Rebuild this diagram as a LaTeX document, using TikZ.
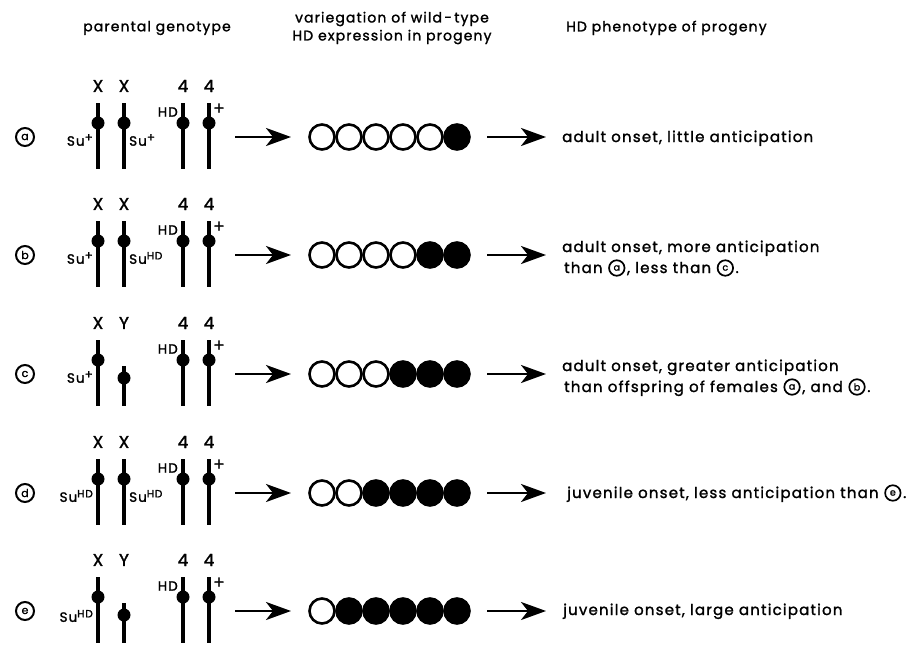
\documentclass[tikz,border=0pt]{standalone}
\usepackage{fontspec}
\setmainfont[LetterSpace=8,FakeBold=1.5]{Poppins}
\usetikzlibrary{arrows.meta,calc}
% superscript plus / HD
\newcommand\supplus{\raisebox{0.55ex}{\fontsize{12}{12}\selectfont +}}
\newcommand\supHD{\raisebox{0.6ex}{\fontsize{10.5}{11}\selectfont HD}}
% chromosome with dot (full length)
\newcommand\chromfull[3]{%
  \draw[chrline] (#2,#3-34) -- (#2,#3+32);
  \node[cdot] (#1) at (#2,#3-14) {};}
% short Y chromosome
\newcommand\chromshort[3]{%
  \draw[chrline] (#2,#3-8) -- (#2,#3+32);
  \node[cdot] (#1) at (#2,#3+4) {};}
% circle row: row name, centre y, number of open circles
\newcommand\circrow[3]{%
  \foreach \k in {0,...,5}{%
    \pgfmathtruncatemacro\isopen{\k<#3 ? 1 : 0}%
    \ifnum\isopen=1
      \node[opencirc] (#1c\k) at (322+27*\k,#2) {};
    \else
      \node[fullcirc] (#1c\k) at (322+27*\k,#2) {};
    \fi}}
% ring after a text node: previous node, new name, letter
\newcommand\ringafter[3]{%
  \node[ring] (#2) at ($(#1.base east)+(14,-5)$) {#3};}
% text after a ring: ring node, reference base node, new name, text
\newcommand\textafter[4]{%
  \node[txt, anchor=base west] (#3) at ($(#1.east |- #2.base)+(1.5,0)$) {#4};}
\begin{document}
\begin{tikzpicture}[x=1pt,y=-1pt,
  chrline/.style={line width=3.2pt},
  cdot/.style={circle, fill=black, inner sep=0pt, minimum size=13pt},
  lab/.style={font=\fontsize{17}{19}\selectfont, inner sep=0pt},
  gene/.style={font=\fontsize{13.5}{15}\selectfont, inner sep=0pt},
  plus/.style={font=\fontsize{17}{17}\selectfont, inner sep=0pt},
  head/.style={font=\fontsize{14}{18}\selectfont, inner sep=0pt, align=center},
  bigarrow/.style={line width=2.6pt, -{Stealth[length=25pt,width=18pt,inset=7pt]}},
  opencirc/.style={circle, draw=black, line width=2.6pt, minimum size=25pt, inner sep=0pt, fill=white},
  fullcirc/.style={opencirc, fill=black},
  rowlab/.style={circle, draw=black, line width=2pt, minimum size=18pt, inner sep=0pt, font=\fontsize{11}{11}\selectfont},
  ring/.style={circle, draw=black, line width=1.7pt, minimum size=15.5pt, inner sep=0pt, font=\fontsize{9.5}{9.5}\selectfont},
  txt/.style={font=\fontsize{15}{18}\selectfont, inner sep=0pt}]
\useasboundingbox (0,0) rectangle (911,645);

% headers
\node[head] (h1) at (157,28) {parental genotype};
\node[head] (h2) at (392,28) {variegation of wild\,-\,type\\HD expression in progeny};
\node[head, anchor=west] (h3) at (566,28) {HD phenotype of progeny};

% ===== row a =====
\def\ry{137}
\node[rowlab] (la) at (25,\ry) {a};
\node[lab] (xa1) at (98,\ry-51) {X};
\node[lab] (xa2) at (124,\ry-51) {X};
\node[lab] (fa1) at (183,\ry-51) {4};
\node[lab] (fa2) at (209,\ry-51) {4};
\chromfull{da1}{98}{\ry}
\chromfull{da2}{124}{\ry}
\chromfull{da3}{183}{\ry}
\chromfull{da4}{209}{\ry}
\node[gene, anchor=east] (sa1) at (93,\ry+3) {Su\supplus};
\node[gene, anchor=west] (sa2) at (129,\ry+3) {Su\supplus};
\node[gene, anchor=east] (ha) at (178,\ry-25) {HD};
\node[plus, anchor=west] (pa) at (213,\ry-28) {+};
\coordinate (a1s) at (235,\ry); \coordinate (a1e) at (291,\ry);
\draw[bigarrow] (a1s) -- (a1e);
\circrow{ra}{\ry}{5}
\coordinate (a2s) at (487,\ry); \coordinate (a2e) at (546,\ry);
\draw[bigarrow] (a2s) -- (a2e);
\node[txt, anchor=base west] (ta) at (562,\ry+5) {adult onset, little anticipation};

% ===== row b =====
\def\ry{255}
\node[rowlab] (lb) at (25,\ry) {b};
\node[lab] (xb1) at (98,\ry-51) {X};
\node[lab] (xb2) at (124,\ry-51) {X};
\node[lab] (fb1) at (183,\ry-51) {4};
\node[lab] (fb2) at (209,\ry-51) {4};
\chromfull{db1}{98}{\ry}
\chromfull{db2}{124}{\ry}
\chromfull{db3}{183}{\ry}
\chromfull{db4}{209}{\ry}
\node[gene, anchor=east] (sb1) at (93,\ry+3) {Su\supplus};
\node[gene, anchor=west] (sb2) at (129,\ry+3) {Su\supHD};
\node[gene, anchor=east] (hb) at (178,\ry-25) {HD};
\node[plus, anchor=west] (pb) at (213,\ry-28) {+};
\coordinate (b1s) at (235,\ry); \coordinate (b1e) at (291,\ry);
\draw[bigarrow] (b1s) -- (b1e);
\circrow{rb}{\ry}{4}
\coordinate (b2s) at (487,\ry); \coordinate (b2e) at (546,\ry);
\draw[bigarrow] (b2s) -- (b2e);
\node[txt, anchor=base west] (tb1) at (562,\ry-3) {adult onset, more anticipation};
\node[txt, anchor=base west] (tb2) at (564,\ry+18) {than};
\ringafter{tb2}{tb3}{a}
\textafter{tb3}{tb2}{tb4}{, less than}
\ringafter{tb4}{tb5}{c}
\textafter{tb5}{tb2}{tb6}{.}

% ===== row c =====
\def\ry{374}
\node[rowlab] (lc) at (25,\ry) {c};
\node[lab] (xc1) at (98,\ry-51) {X};
\node[lab] (yc2) at (124,\ry-51) {Y};
\node[lab] (fc1) at (183,\ry-51) {4};
\node[lab] (fc2) at (209,\ry-51) {4};
\chromfull{dc1}{98}{\ry}
\chromshort{dc2}{124}{\ry}
\chromfull{dc3}{183}{\ry}
\chromfull{dc4}{209}{\ry}
\node[gene, anchor=east] (sc1) at (93,\ry+3) {Su\supplus};
\node[gene, anchor=east] (hc) at (178,\ry-25) {HD};
\node[plus, anchor=west] (pc) at (213,\ry-28) {+};
\coordinate (c1s) at (235,\ry); \coordinate (c1e) at (291,\ry);
\draw[bigarrow] (c1s) -- (c1e);
\circrow{rc}{\ry}{3}
\coordinate (c2s) at (487,\ry); \coordinate (c2e) at (546,\ry);
\draw[bigarrow] (c2s) -- (c2e);
\node[txt, anchor=base west] (tc1) at (562,\ry-3) {adult onset, greater anticipation};
\node[txt, anchor=base west] (tc2) at (564,\ry+18) {than offspring of females};
\ringafter{tc2}{tc3}{a}
\textafter{tc3}{tc2}{tc4}{, and}
\ringafter{tc4}{tc5}{b}
\textafter{tc5}{tc2}{tc6}{.}

% ===== row d =====
\def\ry{493}
\node[rowlab] (ld) at (25,\ry) {d};
\node[lab] (xd1) at (98,\ry-51) {X};
\node[lab] (xd2) at (124,\ry-51) {X};
\node[lab] (fd1) at (183,\ry-51) {4};
\node[lab] (fd2) at (209,\ry-51) {4};
\chromfull{dd1}{98}{\ry}
\chromfull{dd2}{124}{\ry}
\chromfull{dd3}{183}{\ry}
\chromfull{dd4}{209}{\ry}
\node[gene, anchor=east] (sd1) at (93,\ry+3) {Su\supHD};
\node[gene, anchor=west] (sd2) at (129,\ry+3) {Su\supHD};
\node[gene, anchor=east] (hd) at (178,\ry-25) {HD};
\node[plus, anchor=west] (pd) at (213,\ry-28) {+};
\coordinate (d1s) at (235,\ry); \coordinate (d1e) at (291,\ry);
\draw[bigarrow] (d1s) -- (d1e);
\circrow{rd}{\ry}{2}
\coordinate (d2s) at (487,\ry); \coordinate (d2e) at (546,\ry);
\draw[bigarrow] (d2s) -- (d2e);
\node[txt, anchor=base west] (td1) at (567,\ry+5) {juvenile onset, less anticipation than};
\ringafter{td1}{td2}{e}
\textafter{td2}{td1}{td3}{.}

% ===== row e =====
\def\ry{611}
\node[rowlab] (le) at (25,\ry) {e};
\node[lab] (xe1) at (98,\ry-51) {X};
\node[lab] (ye2) at (124,\ry-51) {Y};
\node[lab] (fe1) at (183,\ry-51) {4};
\node[lab] (fe2) at (209,\ry-51) {4};
\chromfull{de1}{98}{\ry}
\chromshort{de2}{124}{\ry}
\chromfull{de3}{183}{\ry}
\chromfull{de4}{209}{\ry}
\node[gene, anchor=east] (se1) at (93,\ry+5) {Su\supHD};
\node[gene, anchor=east] (he) at (178,\ry-25) {HD};
\node[plus, anchor=west] (pe) at (213,\ry-28) {+};
\coordinate (e1s) at (235,\ry); \coordinate (e1e) at (291,\ry);
\draw[bigarrow] (e1s) -- (e1e);
\circrow{re}{\ry}{1}
\coordinate (e2s) at (487,\ry); \coordinate (e2e) at (546,\ry);
\draw[bigarrow] (e2s) -- (e2e);
\node[txt, anchor=base west] (te) at (563,\ry+4) {juvenile onset, large anticipation};
\end{tikzpicture}
\end{document}
